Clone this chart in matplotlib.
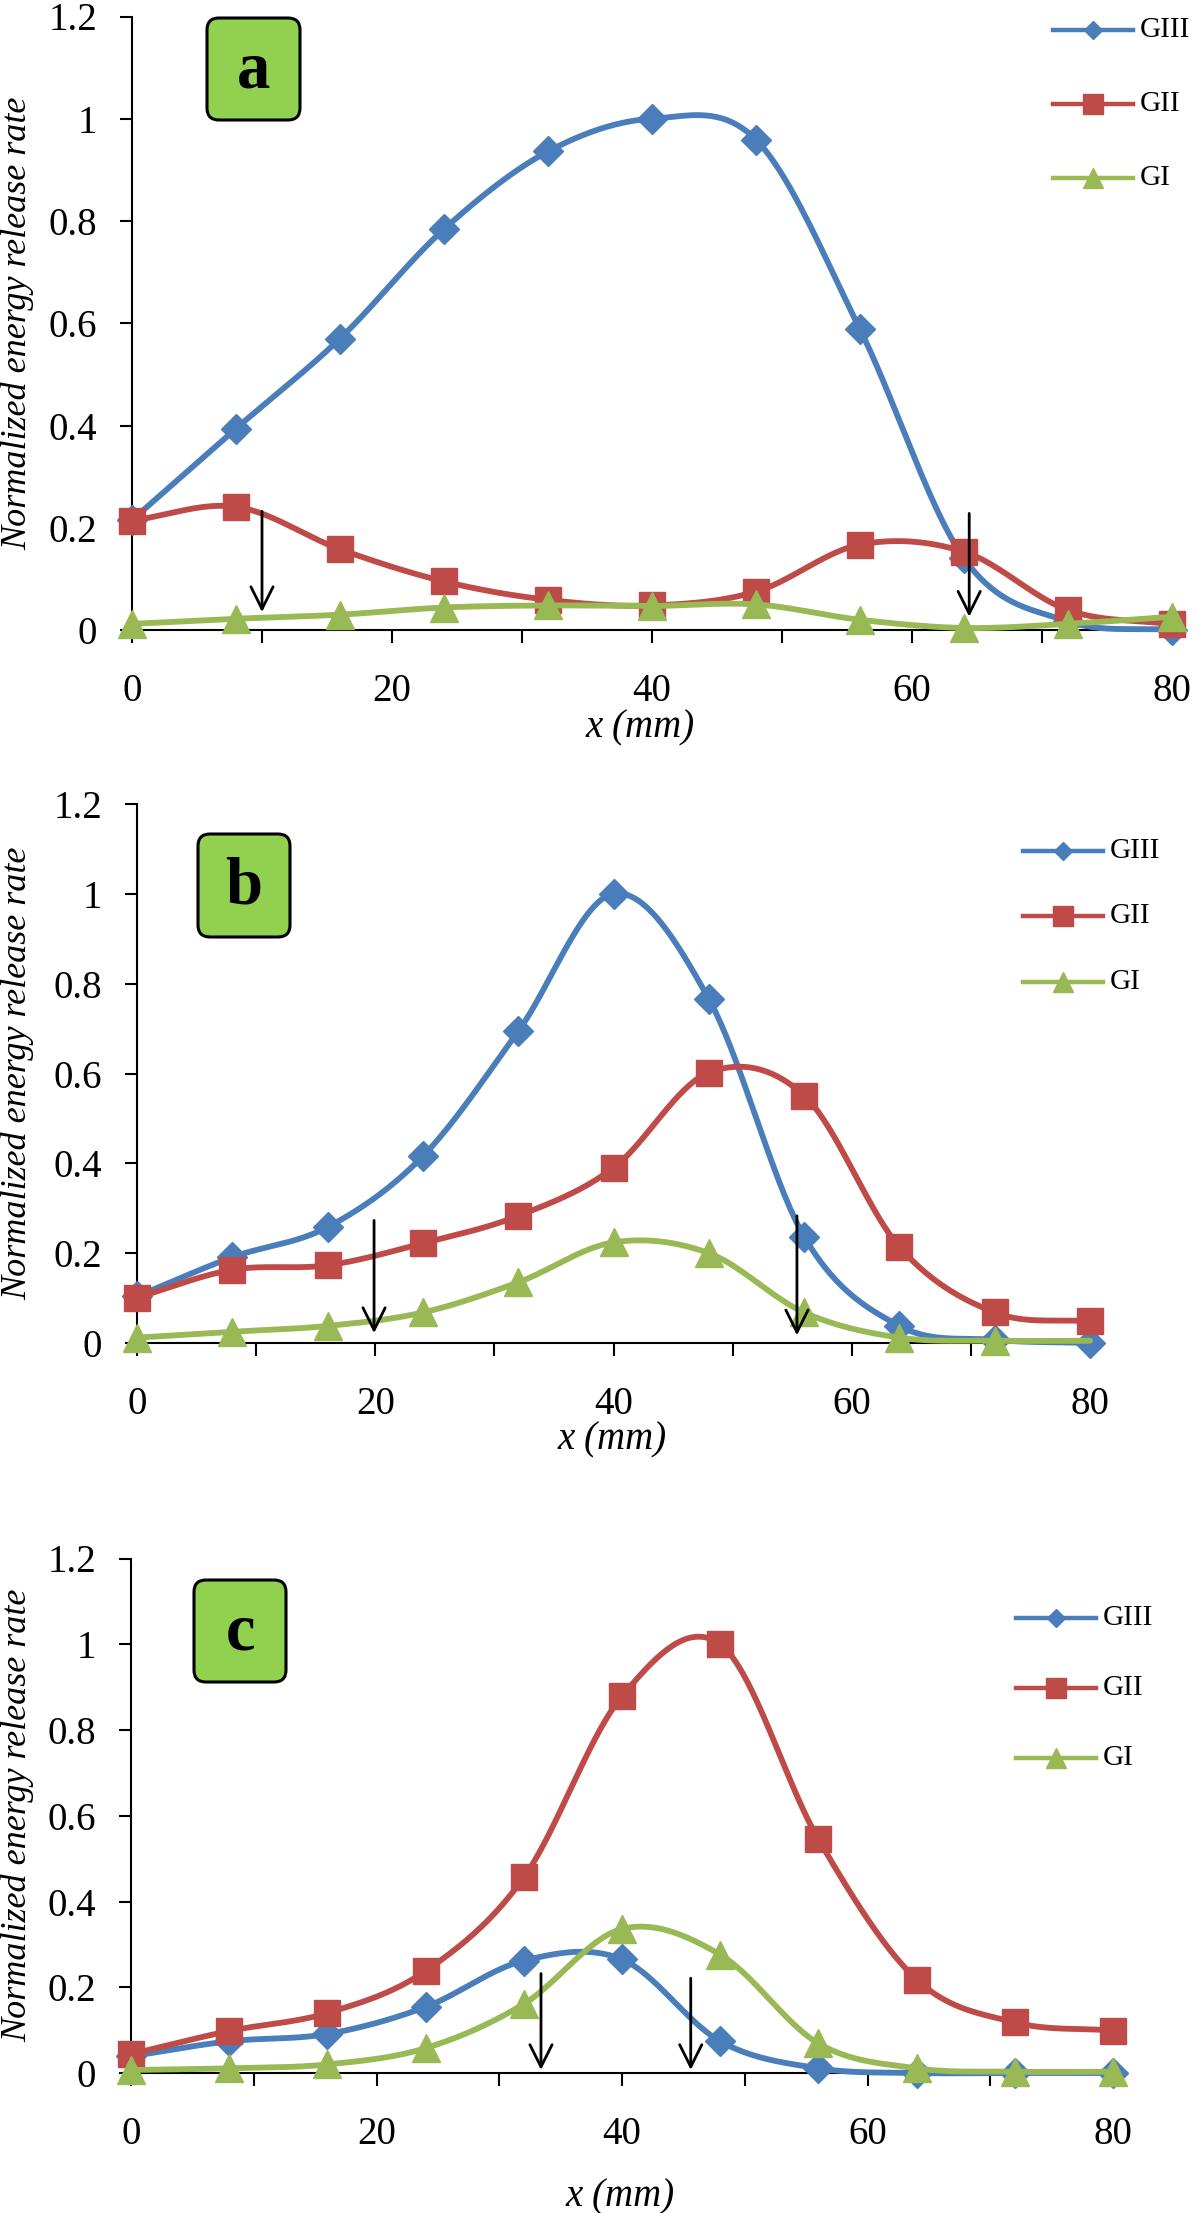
import numpy as np
import matplotlib
matplotlib.use("Agg")
import matplotlib.pyplot as plt
from matplotlib.lines import Line2D
from matplotlib.patches import FancyBboxPatch

plt.rcParams['font.family'] = ['Liberation Serif', 'DejaVu Serif']

W, H = 1200, 2213

# data: x positions along the crack front (mm)
x_mm = [0, 8, 16, 24, 32, 40, 48, 56, 64, 72, 80]
series_names = ['GIII', 'GII', 'GI']

# panel a
a_giii = [0.215, 0.394, 0.570, 0.784, 0.936, 1.0, 0.959, 0.588, 0.14, 0.017, 0.0]
a_gii = [0.214, 0.241, 0.158, 0.095, 0.059, 0.048, 0.075, 0.167, 0.153, 0.039, 0.011]
a_gi = [0.012, 0.022, 0.030, 0.044, 0.048, 0.047, 0.050, 0.020, 0.004, 0.012, 0.026]
a_arrows = [(10, 0.232, 0.035), (64.4, 0.228, 0.026)]

# panel b
b_giii = [0.104, 0.191, 0.258, 0.416, 0.694, 1.0, 0.766, 0.237, 0.038, 0.007, 0.0]
b_gii = [0.101, 0.163, 0.173, 0.222, 0.283, 0.390, 0.602, 0.551, 0.214, 0.068, 0.048]
b_gi = [0.012, 0.025, 0.038, 0.068, 0.135, 0.224, 0.200, 0.068, 0.012, 0.005, 0.005]
b_arrows = [(19.9, 0.273, 0.022), (55.4, 0.283, 0.017)]

# panel c
c_giii = [0.039, 0.074, 0.091, 0.154, 0.262, 0.265, 0.074, 0.011, 0.0, 0.0, 0.0]
c_gii = [0.044, 0.098, 0.140, 0.238, 0.456, 0.879, 1.0, 0.545, 0.218, 0.118, 0.099]
c_gi = [0.007, 0.011, 0.020, 0.058, 0.161, 0.336, 0.276, 0.069, 0.011, 0.003, 0.003]
c_arrows = [(33.4, 0.232, 0.007), (45.6, 0.221, 0.007)]

colors = ['#4A7EBB', '#BE4B48', '#98B954']
markers = ['D', 's', '^']
msizes = [15, 19, 20]


def catmull_rom(xs, ys, n=40):
    # smoothed line like the spreadsheet "smoothed line" option
    xs = np.asarray(xs, float)
    ys = np.asarray(ys, float)
    px = np.concatenate([[2 * xs[0] - xs[1]], xs, [2 * xs[-1] - xs[-2]]])
    py = np.concatenate([[2 * ys[0] - ys[1]], ys, [2 * ys[-1] - ys[-2]]])
    out_x, out_y = [], []
    t = np.linspace(0, 1, n)
    for i in range(1, len(px) - 2):
        p0, p1, p2, p3 = [np.array([px[j], py[j]]) for j in range(i - 1, i + 3)]
        pts = 0.5 * ((2 * p1)[:, None] + (-p0 + p2)[:, None] * t
                     + (2 * p0 - 5 * p1 + 4 * p2 - p3)[:, None] * t ** 2
                     + (-p0 + 3 * p1 - 3 * p2 + p3)[:, None] * t ** 3)
        out_x.extend(pts[0])
        out_y.extend(pts[1])
    return np.array(out_x), np.array(out_y)


def fx(x):
    return x / W


def fy(y):
    return 1 - y / H


fig = plt.figure(figsize=(W / 100, H / 100), dpi=100)

panels = [
    dict(box=(132, 16.5, 1172, 630), data=[a_giii, a_gii, a_gi], arrows=a_arrows,
         tag='a', tagbox=(207, 18, 300, 120), legx=1053, legy=[30, 104, 178],
         xlab=(640, 728), skip_last=[]),
    dict(box=(137, 804, 1090, 1343), data=[b_giii, b_gii, b_gi], arrows=b_arrows,
         tag='b', tagbox=(198, 834, 290, 937), legx=1023, legy=[851, 916, 982],
         xlab=(612, 1440), skip_last=[2]),
    dict(box=(131, 1558.5, 1113, 2073), data=[c_giii, c_gii, c_gi], arrows=c_arrows,
         tag='c', tagbox=(194, 1580, 286, 1682), legx=1016, legy=[1618, 1688, 1758],
         xlab=(620, 2197), skip_last=[]),
]

for p in panels:
    l, t, r, b = p['box']
    ax = fig.add_axes([fx(l), fy(b), fx(r) - fx(l), fy(t) - fy(b)])
    ax.set_xlim(0, 80)
    ax.set_ylim(0, 1.2)
    for i, ys in enumerate(p['data']):
        sx, sy = catmull_rom(x_mm, ys)
        ax.plot(sx, sy, color=colors[i], lw=4.2, clip_on=False, zorder=3 + i,
                solid_capstyle='round')
        n_mark = len(x_mm) - 1 if i in p['skip_last'] else len(x_mm)
        ax.plot(x_mm[:n_mark], ys[:n_mark], ls='none', marker=markers[i],
                ms=msizes[i], color=colors[i], mec=colors[i], clip_on=False,
                zorder=3.5 + i)
    for xa, y0, y1 in p['arrows']:
        ax.annotate('', xy=(xa, y1), xytext=(xa, y0),
                    arrowprops=dict(arrowstyle='->', lw=2, color='black',
                                    mutation_scale=40, shrinkA=0, shrinkB=0),
                    zorder=10)
    ax.spines['top'].set_visible(False)
    ax.spines['right'].set_visible(False)
    for s in ['left', 'bottom']:
        ax.spines[s].set_linewidth(1.5)
    ax.set_xticks(np.arange(0, 81, 20))
    ax.set_xticks(np.arange(10, 81, 20), minor=True)
    ax.set_yticks(np.arange(0, 1.21, 0.2))
    ax.set_yticklabels(['0', '0.2', '0.4', '0.6', '0.8', '1', '1.2'])
    ax.tick_params(axis='both', which='both', direction='out', length=9,
                   width=1.5, labelsize=28)
    ax.tick_params(axis='x', which='major', pad=22)
    ax.tick_params(axis='y', which='major', pad=16)

    # panel tag
    bl, bt, br, bb = p['tagbox']
    fig.patches.append(FancyBboxPatch(
        (fx(bl), fy(bb)), fx(br) - fx(bl), fy(bt) - fy(bb),
        boxstyle='round,pad=0,rounding_size=0.01', transform=fig.transFigure,
        fc='#92D050', ec='black', lw=2.2, mutation_aspect=W / H))
    fig.text(fx((bl + br) / 2), fy((bt + bb) / 2 + 2), p['tag'],
             ha='center', va='center', fontsize=48, fontweight='bold')

    # legend drawn by hand
    for i, name in enumerate(series_names):
        yy = fy(p['legy'][i])
        fig.add_artist(Line2D([fx(p['legx']), fx(p['legx'] + 80)], [yy, yy],
                              transform=fig.transFigure, color=colors[i], lw=3.2))
        fig.add_artist(Line2D([fx(p['legx'] + 40)], [yy], transform=fig.transFigure,
                              ls='none', marker=markers[i],
                              ms=[9, 14, 14][i], color=colors[i]))
        fig.text(fx(p['legx'] + 87), yy, name, ha='left', va='center', fontsize=21)

    fig.text(fx(18), fy((t + b) / 2), 'Normalized energy release rate',
             rotation=90, ha='center', va='center', fontsize=26, style='italic')
    fig.text(fx(p['xlab'][0]), fy(p['xlab'][1]), 'x (mm)', ha='center',
             va='center', fontsize=28, style='italic')

fig.savefig('out.png', dpi=100)
